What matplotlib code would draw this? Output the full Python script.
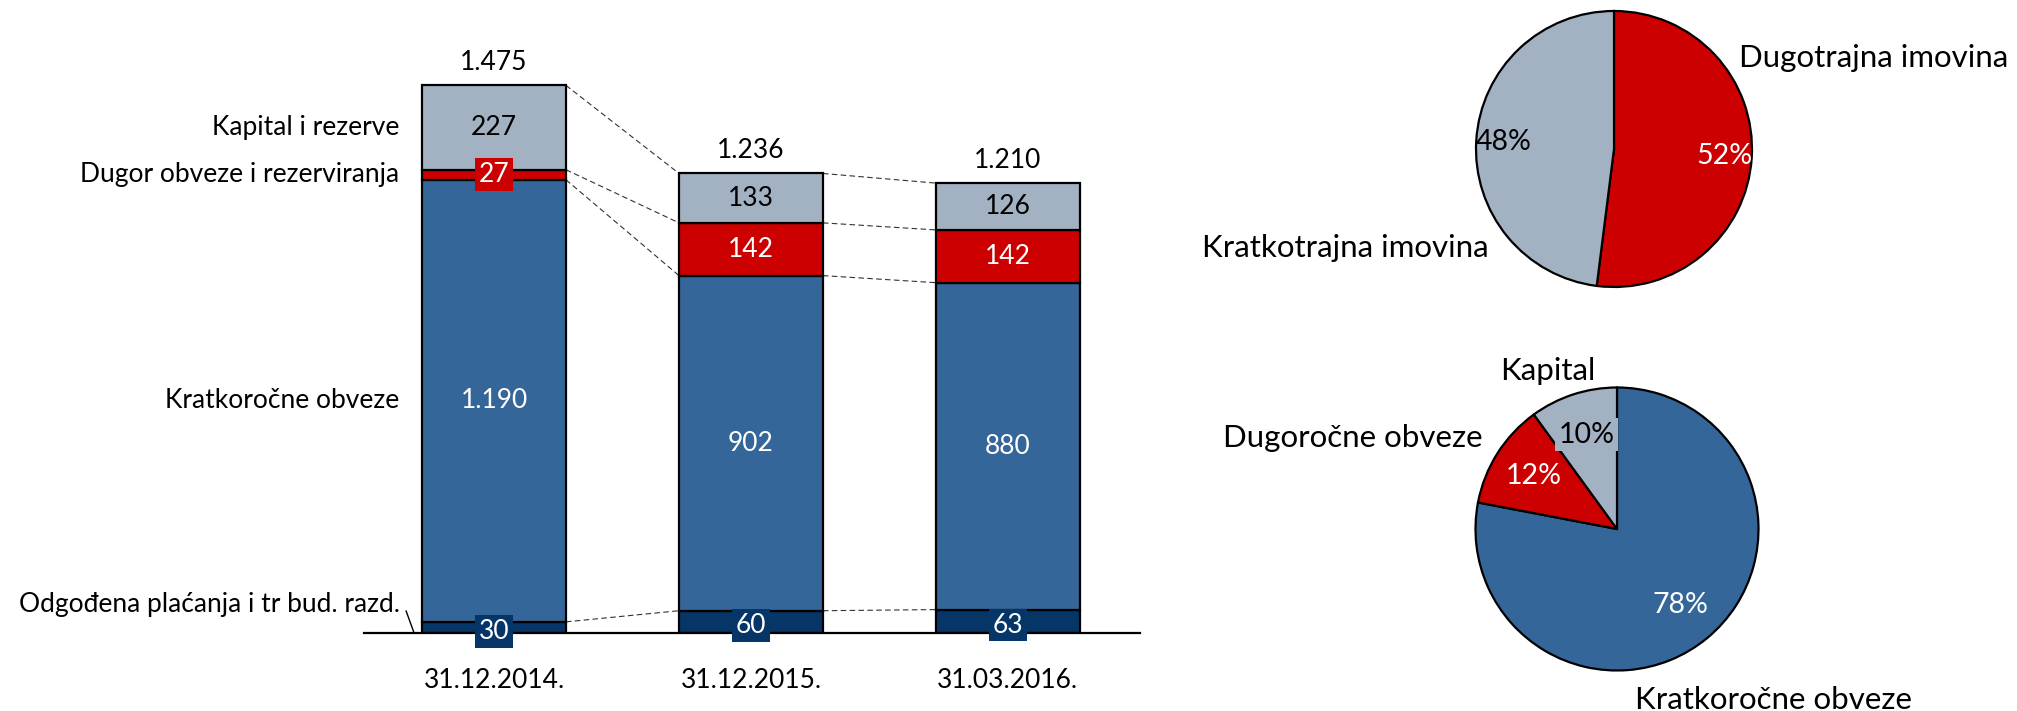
import matplotlib
matplotlib.use("Agg")
import matplotlib.pyplot as plt

plt.rcParams['font.family'] = ['Lato', 'DejaVu Sans']

# data
datumi = ['31.12.2014.', '31.12.2015.', '31.03.2016.']
odgodjena = [30, 60, 63]
kratkorocne = [1190, 902, 880]
dugorocne = [27, 142, 142]
kapital = [227, 133, 126]
ukupno = [1475, 1236, 1210]

seg_nazivi = ['Odgođena plaćanja i tr bud. razd.', 'Kratkoročne obveze',
              'Dugor obveze i rezerviranja', 'Kapital i rezerve']

imovina_nazivi = ['Dugotrajna imovina', 'Kratkotrajna imovina']
imovina_pct = [52, 48]
izvori_nazivi = ['Kratkoročne obveze', 'Dugoročne obveze', 'Kapital']
izvori_pct = [78, 12, 10]

# colours
SIVA = '#A3B2C2'
CRVENA = '#CC0000'
PLAVA = '#346699'
TAMNA = '#063667'
FS = 19      # bar chart text
FS_PIE = 22.5  # pie names
FS_PCT = 20.5  # pie percentages

W, H = 2017, 711
fig = plt.figure(figsize=(W / 100, H / 100), dpi=100)


def px_axes(left, top, width, height):
    return fig.add_axes([left / W, 1 - (top + height) / H, width / W, height / H])


def fmt(v):
    return f"{v:,}".replace(',', '.')


# ---- stacked bars ----
ax = px_axes(364, 633 - 594.4, 776, 594.4)
ax.set_xlim(-0.506, 2.514)
ax.set_ylim(0, 1600)
bw = 0.56
x = list(range(len(datumi)))
serije = [odgodjena, kratkorocne, dugorocne, kapital]
boje = [TAMNA, PLAVA, CRVENA, SIVA]

dno = [0] * len(x)
razine = []
for vals, c in zip(serije, boje):
    ax.bar(x, vals, bw, bottom=dno, color=c, edgecolor='black', linewidth=1.6, zorder=2)
    dno = [d + v for d, v in zip(dno, vals)]
    razine.append(list(dno))

# value labels inside segments
for i in x:
    # odgodjena - boxed
    ax.text(i, odgodjena[i] / 2 - 10, fmt(odgodjena[i]), ha='center', va='center', color='white',
            fontsize=FS, zorder=5,
            bbox=dict(boxstyle='square,pad=0.15', facecolor=TAMNA, edgecolor='none'))
    ax.text(i, odgodjena[i] + kratkorocne[i] / 2, fmt(kratkorocne[i]), ha='center', va='center',
            color='white', fontsize=FS, zorder=5)
    y_d = razine[1][i] + dugorocne[i] / 2
    if dugorocne[i] < 60:
        ax.text(i, y_d, fmt(dugorocne[i]), ha='center', va='center', color='white', fontsize=FS,
                zorder=5, bbox=dict(boxstyle='square,pad=0.15', facecolor=CRVENA, edgecolor='none'))
    else:
        ax.text(i, y_d, fmt(dugorocne[i]), ha='center', va='center', color='white', fontsize=FS, zorder=5)
    ax.text(i, razine[2][i] + kapital[i] / 2, fmt(kapital[i]), ha='center', va='center',
            color='black', fontsize=FS, zorder=5)
    ax.text(i, razine[3][i] + 62, fmt(ukupno[i]), ha='center', va='center', color='black', fontsize=FS)

# dashed connectors
for i in range(len(x) - 1):
    for r in razine:
        ax.plot([i + bw / 2, i + 1 - bw / 2], [r[i], r[i + 1]], color='#333333', lw=0.8,
                ls=(0, (5, 3)), zorder=1)

# segment names on the left
lx = -0.37
ax.text(lx, razine[2][0] + kapital[0] / 2, seg_nazivi[3], ha='right', va='center', fontsize=FS)
ax.text(lx, razine[1][0] + dugorocne[0] / 2, seg_nazivi[2], ha='right', va='center', fontsize=FS)
ax.text(lx, odgodjena[0] + kratkorocne[0] / 2, seg_nazivi[1], ha='right', va='center', fontsize=FS)
ax.text(lx + 0.005, 76, seg_nazivi[0], ha='right', va='center', fontsize=FS)
ax.plot([-0.342, -0.311], [59, 0], color='black', lw=1)

for s in ['top', 'right', 'left']:
    ax.spines[s].set_visible(False)
ax.spines['bottom'].set_linewidth(1.6)
ax.set_yticks([])
ax.set_xticks(x)
ax.set_xticklabels(datumi, fontsize=FS)
ax.tick_params(axis='x', length=0, pad=25)

# ---- pie: imovina ----
r1 = 138
ax1 = px_axes(1614 - r1, 149 - r1, 2 * r1, 2 * r1)
w1, t1, p1 = ax1.pie(imovina_pct, colors=[CRVENA, SIVA], startangle=90, counterclock=False,
                     autopct='%.0f%%', pctdistance=0.8,
                     wedgeprops=dict(edgecolor='black', linewidth=1.6))
p1[0].set_color('white')
p1[1].set_color('black')
for t in p1:
    t.set_fontsize(FS_PCT)
ax1.set_xlim(-1, 1)
ax1.set_ylim(-1, 1)
ax1.text(0.906, 0.66, imovina_nazivi[0], ha='left', va='center', fontsize=FS_PIE, clip_on=False)
ax1.text(-0.906, -0.72, imovina_nazivi[1], ha='right', va='center', fontsize=FS_PIE, clip_on=False)

# ---- pie: izvori ----
r2 = 141.5
ax2 = px_axes(1617 - r2, 529 - r2, 2 * r2, 2 * r2)
w2, t2, p2 = ax2.pie(izvori_pct, colors=[PLAVA, CRVENA, SIVA], startangle=90, counterclock=False,
                     autopct='%.0f%%', pctdistance=0.7,
                     wedgeprops=dict(edgecolor='black', linewidth=1.6))
p2[0].set_color('white')
p2[1].set_color('white')
p2[2].set_color('black')
p2[2].set_bbox(dict(boxstyle='square,pad=0.12', facecolor=SIVA, edgecolor='none'))
for t in p2:
    t.set_fontsize(FS_PCT)
ax2.set_xlim(-1, 1)
ax2.set_ylim(-1, 1)
ax2.text(-0.49, 1.12, izvori_nazivi[2], ha='center', va='center', fontsize=FS_PIE, clip_on=False)
ax2.text(-0.95, 0.64, izvori_nazivi[1], ha='right', va='center', fontsize=FS_PIE, clip_on=False)
ax2.text(0.13, -1.21, izvori_nazivi[0], ha='left', va='center', fontsize=FS_PIE, clip_on=False)

fig.savefig('out.png', dpi=100)
